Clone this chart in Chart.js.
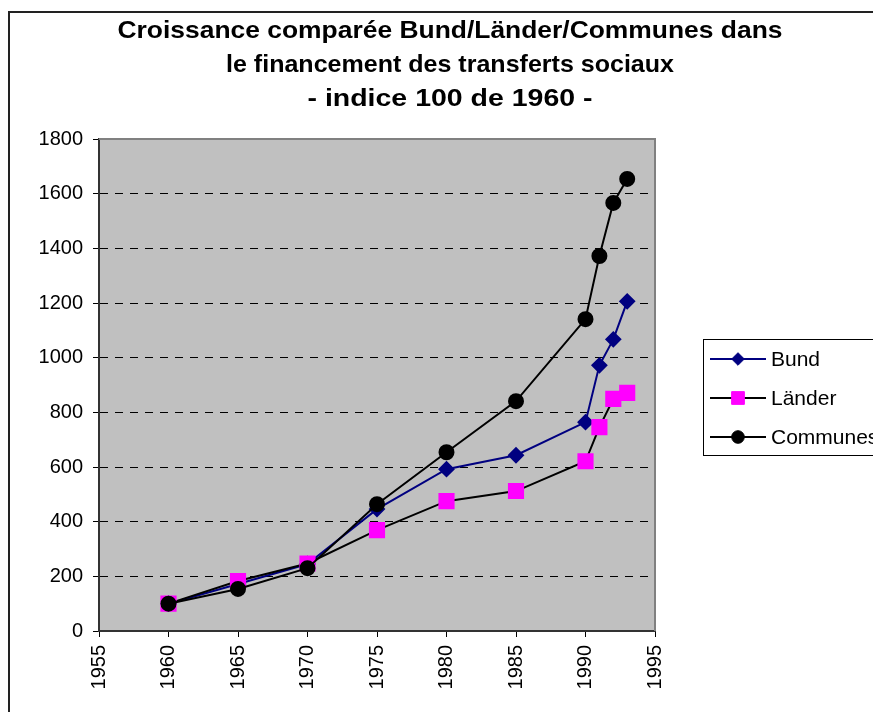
<!DOCTYPE html>
<html>
<head>
<meta charset="utf-8">
<script src="https://cdn.jsdelivr.net/npm/chart.js@4/dist/chart.umd.min.js"></script>
<style>
html,body{margin:0;padding:0;background:#fff;}
#wrap{position:relative;width:873px;height:712px;}
</style>
</head>
<body>
<div id="wrap"><canvas id="c" width="873" height="712"></canvas></div>
<script>
const titleLines = ["Croissance comparée Bund/Länder/Communes dans", "le financement des transferts sociaux", "- indice 100 de 1960 -"];
const years = [1960, 1965, 1970, 1975, 1980, 1985, 1990, 1991, 1992, 1993];
const bund = [100, 172, 245, 446, 592, 643, 764, 972, 1067, 1206];
const laender = [100, 183, 247, 369, 475, 512, 621, 746, 849, 871];
const communes = [100, 154, 230, 464, 654, 841, 1141, 1372, 1566, 1654];
const seriesNames = ["Bund", "Länder", "Communes"];
const xMin = 1955, xMax = 1995, xStep = 5;
const yMin = 0, yMax = 1800, yStep = 200;

const FONT = "'Liberation Sans', Arial, sans-serif";
const titleWidths = [665, 448, 285];
const pts = arr => years.map((y, i) => ({x: y, y: arr[i]}));

const framePlugin = {
  id: 'frame',
  beforeDraw(chart) {
    const {ctx, chartArea: a} = chart;
    ctx.save();
    ctx.fillStyle = '#fff';
    ctx.fillRect(0, 0, chart.width, chart.height);
    ctx.fillStyle = '#C0C0C0';
    ctx.fillRect(a.left, a.top, a.right - a.left, a.bottom - a.top);
    ctx.restore();
  },
  afterDraw(chart) {
    const {ctx, chartArea: a} = chart;
    ctx.save();
    ctx.strokeStyle = '#808080';
    ctx.lineWidth = 2;
    ctx.beginPath();
    ctx.moveTo(a.left, a.top);
    ctx.lineTo(a.right, a.top);
    ctx.lineTo(a.right, a.bottom);
    ctx.stroke();
    ctx.strokeStyle = '#222';
    ctx.lineWidth = 2;
    ctx.strokeRect(9, 12, 1000, 1000);
    ctx.fillStyle = '#000';
    ctx.font = "bold 24px " + FONT;
    ctx.textAlign = 'center';
    ctx.textBaseline = 'middle';
    const cx = 450;
    titleLines.forEach((t, i) => {
      const w = ctx.measureText(t).width;
      ctx.save();
      ctx.translate(cx, 31 + i * 34);
      ctx.scale(titleWidths[i] / w, 1);
      ctx.fillText(t, 0, 0);
      ctx.restore();
    });
    const lx = 703.5, ly = 339.5;
    ctx.strokeStyle = '#000';
    ctx.lineWidth = 1;
    ctx.strokeRect(lx, ly, 300, 116);
    ctx.font = "21px " + FONT;
    ctx.textAlign = 'left';
    chart.data.datasets.forEach((ds, i) => {
      const ry = 359 + i * 39;
      ctx.strokeStyle = ds.borderColor;
      ctx.lineWidth = ds.borderWidth;
      ctx.beginPath();
      ctx.moveTo(710, ry);
      ctx.lineTo(766, ry);
      ctx.stroke();
      ctx.fillStyle = ds.pointBackgroundColor;
      ctx.strokeStyle = ds.pointBorderColor;
      ctx.lineWidth = 1;
      Chart.helpers.drawPoint(ctx, {pointStyle: ds.pointStyle, radius: ds.pointRadius * 0.9, rotation: 0, borderWidth: 1}, 738, ry);
      ctx.fillStyle = '#000';
      ctx.fillText(ds.label, 771, ry + 1);
    });
    ctx.restore();
  }
};

new Chart(document.getElementById('c'), {
  type: 'line',
  data: {
    datasets: [
      {label: seriesNames[0], data: pts(bund), borderColor: '#000080', borderWidth: 2,
       pointStyle: 'rectRot', pointRadius: 7, pointBackgroundColor: '#000080', pointBorderColor: '#000080', order: 3},
      {label: seriesNames[1], data: pts(laender), borderColor: '#000000', borderWidth: 2,
       pointStyle: 'rect', pointRadius: 10, pointBackgroundColor: '#FF00FF', pointBorderColor: '#FF00FF', order: 2},
      {label: seriesNames[2], data: pts(communes), borderColor: '#000000', borderWidth: 2,
       pointStyle: 'circle', pointRadius: 7, pointBackgroundColor: '#000000', pointBorderColor: '#000000', order: 1}
    ]
  },
  options: {
    responsive: false,
    animation: false,
    devicePixelRatio: 1,
    layout: {padding: {left: 0, top: 139, right: 218, bottom: 0}},
    plugins: {legend: {display: false}, title: {display: false}, tooltip: {enabled: false}},
    elements: {line: {tension: 0}, point: {hoverRadius: 7}},
    scales: {
      x: {
        type: 'linear', min: xMin, max: xMax,
        afterFit: s => { s.height = 81; },
        ticks: {stepSize: xStep, minRotation: 90, maxRotation: 90, color: '#000', padding: 8,
                font: {family: FONT, size: 20}, callback: v => String(v)},
        grid: {drawOnChartArea: false, drawTicks: true, tickLength: 6, tickColor: '#000', tickWidth: 1},
        border: {display: true, color: '#333', width: 2}
      },
      y: {
        min: yMin, max: yMax,
        afterFit: s => { s.width = 99; },
        ticks: {stepSize: yStep, color: '#000', padding: 10, font: {family: FONT, size: 20}, callback: v => String(v)},
        grid: {
          color: c => (c.tick && (c.tick.value === yMin || c.tick.value === yMax)) ? 'rgba(0,0,0,0)' : '#000',
          lineWidth: 1, tickLength: 6, tickColor: '#000', tickWidth: 1, tickBorderDash: [0, 0]
        },
        border: {display: true, color: '#333', width: 2, dash: [8, 7]}
      }
    }
  },
  plugins: [framePlugin]
});
</script>
</body>
</html>
